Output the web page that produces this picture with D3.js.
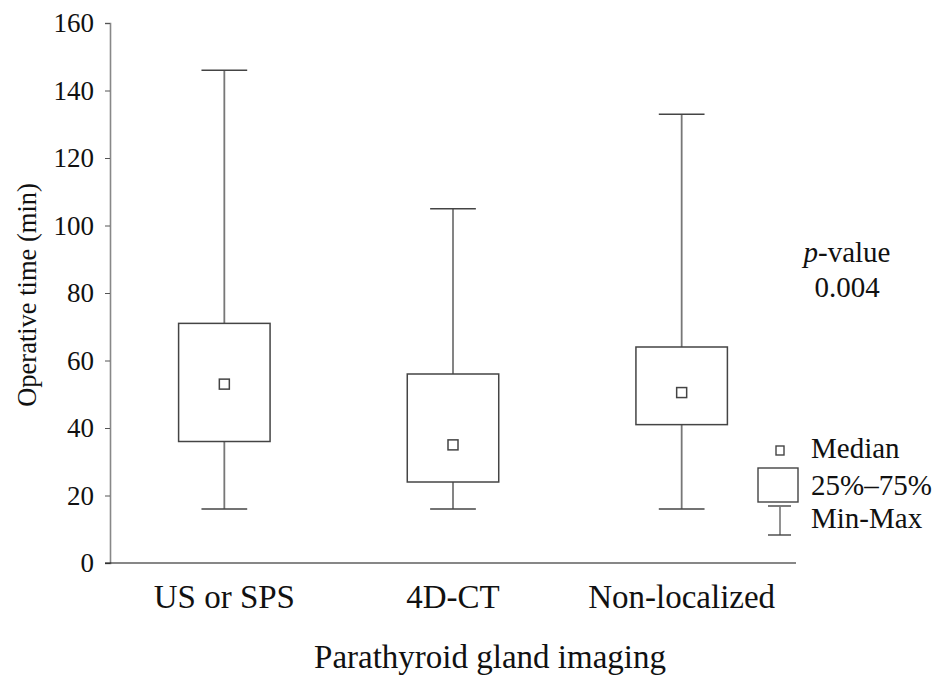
<!DOCTYPE html>
<html>
<head>
<meta charset="utf-8">
<script src="https://cdn.jsdelivr.net/npm/d3@7"></script>
<style>
  body { margin: 0; background: #fff; }
  #container { width: 941px; height: 677px; position: relative; }
  text { font-family: "Liberation Serif", "Times New Roman", serif; fill: #111; }
</style>
</head>
<body>
<div id="container"></div>
<script>
// values (minutes)
const categories = ["US or SPS", "4D-CT", "Non-localized"];
const minVals = [16, 16, 16];
const q1Vals = [36, 24, 41];
const medianVals = [53, 35, 50.5];
const q3Vals = [71, 56, 64];
const maxVals = [146, 105, 133];
const yTicks = [0, 20, 40, 60, 80, 100, 120, 140, 160];

const width = 941, height = 677;
const margin = { top: 23, right: 145, bottom: 114, left: 110 };

const svg = d3.select("#container").append("svg")
              .attr("width", width)
              .attr("height", height);

const xScale = d3.scaleBand().domain(categories).range([margin.left, width - margin.right]).padding(0);
const yScale = d3.scaleLinear().domain([0, 160]).range([height - margin.bottom, margin.top]);

const data = categories.map((c, i) => ({
  cat: c, min: minVals[i], q1: q1Vals[i], med: medianVals[i], q3: q3Vals[i], max: maxVals[i]
}));

const boxW = xScale.step() * 0.4;
const capW = xScale.step() * 0.2;
const lineCol = "#444";

// y axis
const yAxis = d3.axisLeft(yScale).tickValues(yTicks).tickSize(5).tickPadding(11);
const yAxisArea = svg.append("g").attr("transform", "translate(" + margin.left + ",0)").call(yAxis);
yAxisArea.select(".domain").attr("stroke", "#888").attr("stroke-width", 1.6);
yAxisArea.selectAll(".tick line").attr("stroke", "#555");
yAxisArea.selectAll(".tick text")
         .style("font-family", "Liberation Serif, serif")
         .style("font-size", "27px")
         .attr("fill", "#111");

// x axis line (extends a little left of the y axis)
svg.append("line")
   .attr("x1", margin.left - 5).attr("x2", width - margin.right)
   .attr("y1", yScale(0)).attr("y2", yScale(0))
   .attr("stroke", "#111").attr("stroke-width", 1.2);

svg.selectAll(".xlab").data(categories).join("text")
   .attr("class", "xlab")
   .attr("x", d => xScale(d) + xScale.bandwidth() / 2)
   .attr("y", 608)
   .attr("text-anchor", "middle")
   .style("font-size", "33px")
   .text(d => d);

// boxes
const boxes = svg.selectAll(".box").data(data).join("g").attr("class", "box");

boxes.append("line") // whisker
     .attr("x1", d => xScale(d.cat) + xScale.bandwidth() / 2)
     .attr("x2", d => xScale(d.cat) + xScale.bandwidth() / 2)
     .attr("y1", d => yScale(d.min))
     .attr("y2", d => yScale(d.max))
     .attr("stroke", "#777").attr("stroke-width", 1.8);

boxes.selectAll(".cap").data(d => [d.min, d.max].map(v => ({ cat: d.cat, v: v })))
     .join("line").attr("class", "cap")
     .attr("x1", d => xScale(d.cat) + xScale.bandwidth() / 2 - capW / 2)
     .attr("x2", d => xScale(d.cat) + xScale.bandwidth() / 2 + capW / 2)
     .attr("y1", d => yScale(d.v))
     .attr("y2", d => yScale(d.v))
     .attr("stroke", lineCol).attr("stroke-width", 1.5);

boxes.append("rect")
     .attr("x", d => xScale(d.cat) + xScale.bandwidth() / 2 - boxW / 2)
     .attr("y", d => yScale(d.q3))
     .attr("width", boxW)
     .attr("height", d => yScale(d.q1) - yScale(d.q3))
     .attr("fill", "#fff")
     .attr("stroke", lineCol).attr("stroke-width", 1.5);

boxes.append("rect")
     .attr("x", d => xScale(d.cat) + xScale.bandwidth() / 2 - 5)
     .attr("y", d => yScale(d.med) - 5)
     .attr("width", 10).attr("height", 10)
     .attr("fill", "#fff")
     .attr("stroke", lineCol).attr("stroke-width", 1.5);

// axis titles
svg.append("text")
   .attr("transform", "translate(36," + 295 + ") rotate(-90)")
   .attr("text-anchor", "middle")
   .style("font-size", "26.5px")
   .text("Operative time (min)");

svg.append("text")
   .attr("x", 490).attr("y", 668)
   .attr("text-anchor", "middle")
   .style("font-size", "33px")
   .text("Parathyroid gland imaging");

// p-value
const pText = svg.append("text").attr("x", 847).attr("y", 262)
                 .attr("text-anchor", "middle").style("font-size", "29px");
pText.append("tspan").style("font-style", "italic").text("p");
pText.append("tspan").text("-value");
svg.append("text").attr("x", 847).attr("y", 297)
   .attr("text-anchor", "middle").style("font-size", "29px").text("0.004");

// legend
const lg = svg.append("g");
lg.append("rect").attr("x", 776).attr("y", 446).attr("width", 8).attr("height", 9)
  .attr("fill", "#fff").attr("stroke", lineCol).attr("stroke-width", 1.4);
lg.append("rect").attr("x", 758).attr("y", 468).attr("width", 40).attr("height", 34)
  .attr("fill", "#fff").attr("stroke", lineCol).attr("stroke-width", 1.4);
lg.append("line").attr("x1", 768).attr("x2", 791).attr("y1", 506).attr("y2", 506)
  .attr("stroke", lineCol).attr("stroke-width", 1.4);
lg.append("line").attr("x1", 780).attr("x2", 780).attr("y1", 506).attr("y2", 535)
  .attr("stroke", "#777").attr("stroke-width", 1.6);
lg.append("line").attr("x1", 768).attr("x2", 791).attr("y1", 535).attr("y2", 535)
  .attr("stroke", lineCol).attr("stroke-width", 1.4);

const legendLabels = ["Median", "25%–75%", "Min-Max"];
const legendY = [458, 495, 528];
lg.selectAll(".ltxt").data(legendLabels).join("text")
  .attr("class", "ltxt")
  .attr("x", 811)
  .attr("y", (d, i) => legendY[i])
  .style("font-size", "29px")
  .text(d => d);
</script>
</body>
</html>
